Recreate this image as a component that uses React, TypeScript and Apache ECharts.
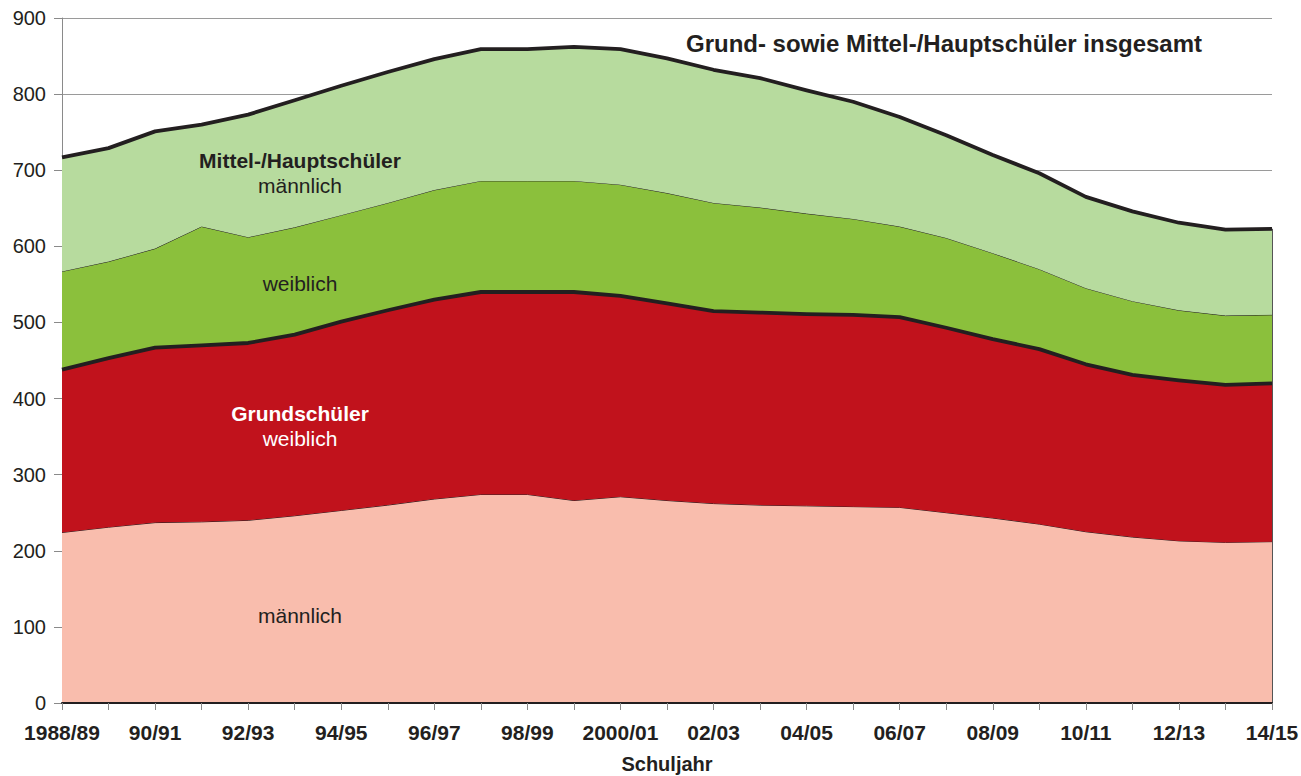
import React, { useEffect, useRef } from "react";
import * as echarts from "echarts";

const years: string[] = [
  "1988/89", "89/90", "90/91", "91/92", "92/93", "93/94", "94/95", "95/96", "96/97",
  "97/98", "98/99", "99/00", "2000/01", "01/02", "02/03", "03/04", "04/05", "05/06",
  "06/07", "07/08", "08/09", "09/10", "10/11", "11/12", "12/13", "13/14", "14/15",
];

// Tausend Schüler
const grundMaennlich: number[] = [224, 231, 237, 238, 240, 246, 253, 260, 268, 274, 274, 266, 271, 266, 262, 260, 259, 258, 257, 250, 243, 235, 225, 218, 213, 211, 212];
const grundWeiblich: number[] = [214, 222, 230, 232, 233, 238, 248, 256, 262, 266, 266, 274, 264, 259, 253, 253, 252, 252, 250, 243, 235, 230, 220, 213, 211, 207, 208];
const mittelWeiblich: number[] = [129, 127, 130, 156, 139, 141, 140, 141, 144, 146, 146, 146, 146, 145, 142, 138, 132, 126, 119, 118, 113, 105, 100, 97, 92, 91, 90];
const mittelMaennlich: number[] = [150, 149, 154, 134, 161, 167, 170, 172, 172, 173, 173, 176, 178, 177, 175, 170, 162, 154, 144, 135, 129, 126, 120, 118, 115, 113, 113];

const yTicks = { min: 0, max: 900, interval: 100 };

const FONT = "'Liberation Sans', Arial, Helvetica, sans-serif";
const INK = "#231F20";

export default function App() {
  const ref = useRef<HTMLDivElement>(null);

  useEffect(() => {
    if (!ref.current) return;
    const chart = echarts.init(ref.current, null, { renderer: "svg" });
    const last = years.length - 1;
    const total =
      grundMaennlich[last] + grundWeiblich[last] + mittelWeiblich[last] + mittelMaennlich[last];

    const mk = (
      name: string,
      data: number[],
      fill: string,
      lineWidth: number,
      z: number
    ) => ({
      name,
      type: "line",
      stack: "all",
      data,
      symbol: "none",
      z,
      areaStyle: { color: fill, opacity: 1 },
      lineStyle: { color: INK, width: lineWidth, join: "round" },
      emphasis: { disabled: true },
    });

    const label = (text: string, x: number, y: number, bold: boolean, fill: string, size = 21) => ({
      type: "text",
      x,
      y,
      z: 100,
      zlevel: 0,
      style: {
        text,
        font: `${bold ? "bold " : ""}${size}px ${FONT}`,
        fill,
        textAlign: "center",
        textVerticalAlign: "middle",
      },
    });

    const option: any = {
      animation: false,
      backgroundColor: "#ffffff",
      grid: {
        left: 62,
        right: 29,
        top: 18,
        bottom: 73,
        containLabel: false,
        outerBoundsMode: "none",
      },
      xAxis: {
        type: "category",
        data: years,
        boundaryGap: false,
        name: "Schuljahr",
        nameLocation: "middle",
        nameGap: 51,
        nameTextStyle: { fontFamily: FONT, fontSize: 20, fontWeight: "bold", color: INK },
        axisLine: { show: true, lineStyle: { color: INK, width: 2 } },
        axisTick: { show: true, interval: 0, length: 7, lineStyle: { color: "#8a8a8a", width: 1 } },
        axisLabel: {
          interval: 1,
          margin: 19,
          fontFamily: FONT,
          fontSize: 21,
          fontWeight: "bold",
          color: INK,
        },
        splitLine: { show: false },
        z: 10,
      },
      yAxis: {
        type: "value",
        min: yTicks.min,
        max: yTicks.max,
        interval: yTicks.interval,
        axisLine: { show: true, lineStyle: { color: "#8a8a8a", width: 1 } },
        axisTick: { show: true, length: 8, lineStyle: { color: "#8a8a8a", width: 1 } },
        axisLabel: { margin: 16, fontFamily: FONT, fontSize: 20, color: INK },
        splitLine: { show: true, lineStyle: { color: "#9a9a9a", width: 1 } },
      },
      series: [
        mk("Grundschüler männlich", grundMaennlich, "#F9BDAD", 1, 2),
        mk("Grundschüler weiblich", grundWeiblich, "#C1121C", 3.8, 4),
        mk("Mittel-/Hauptschüler weiblich", mittelWeiblich, "#8BC03C", 1, 2),
        {
          ...mk("Mittel-/Hauptschüler männlich", mittelMaennlich, "#B7DB9E", 3.8, 4),
          markLine: {
            silent: true,
            symbol: "none",
            label: { show: false },
            lineStyle: { color: "#555", width: 1, type: "solid" },
            data: [[{ coord: [last, 0] }, { coord: [last, total] }]],
          },
        },
      ],
      graphic: {
        elements: [
          label("Grund- sowie Mittel-/Hauptschüler insgesamt", 944, 43, true, INK, 24),
          label("Mittel-/Hauptschüler", 300, 160, true, INK),
          label("männlich", 300, 185, false, INK),
          label("weiblich", 300, 283, false, INK),
          label("Grundschüler", 300, 413, true, "#ffffff"),
          label("weiblich", 300, 438, false, "#ffffff"),
          label("männlich", 300, 615, false, INK),
        ],
      },
    };

    chart.setOption(option);
    return () => chart.dispose();
  }, []);

  return (
    <div
      ref={ref}
      style={{ position: "fixed", left: 0, top: 0, width: 1301, height: 776, background: "#fff" }}
    />
  );
}
